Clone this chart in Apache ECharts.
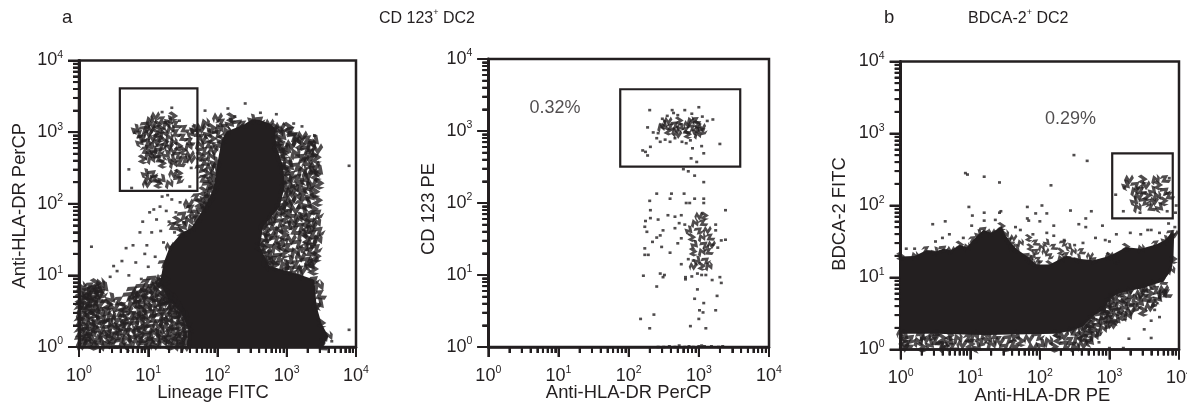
<!DOCTYPE html>
<html><head><meta charset="utf-8">
<style>html,body{margin:0;padding:0;background:#fff}#c{width:1187px;height:407px}</style>
<script src="https://cdn.jsdelivr.net/npm/echarts@6/dist/echarts.min.js"></script>
</head><body><div id="c"></div>
<script>
// All cytometry readings below are decades: [log10 x, log10 y],
// or rows [log10 y, log10 x, log10 x, ...] for the stippled parts of a cloud.
const decadeTicks = [1, 10, 100, 1000, 10000];
const minorTicks = [2,3,4,5,6,7,8,9,20,30,40,50,60,70,80,90,200,300,400,500,600,700,800,900,2000,3000,4000,5000,6000,7000,8000,9000];

const p1Core = [[1.55,0],[1.58,.24],[1.48,.47],[1.29,.66],[1.17,.89],[1.22,1.17],[1.31,1.40],[1.48,1.59],[1.62,1.66],[1.70,1.78],[1.82,1.96],[1.94,2.20],[1.99,2.52],[2.06,2.89],[2.13,3.01],[2.37,3.10],[2.5,3.18],[2.61,3.17],[2.75,3.12],[2.83,3.06],[2.85,2.80],[2.95,2.52],[2.97,2.24],[2.90,1.96],[2.66,1.68],[2.61,1.40],[2.75,1.13],[3.0,1.06],[3.19,1.01],[3.40,.94],[3.43,.57],[3.50,.33],[3.60,.15],[3.52,0]];
const p1Left = [
[.03,.04,.2,.38,.5,.72,.95,1.1,1.3,1.45],[.07,.12,.3,.6,.85,1.02,1.2,1.38,1.52],[.11,.03,.22,.44,.68,.9,1.12,1.28,1.48],
[.15,.1,.34,.52,.78,1.0,1.22,1.4,1.55],[.19,.02,.18,.42,.62,.86,1.08,1.32,1.5],[.23,.12,.3,.56,.74,.96,1.18,1.42],
[.27,.06,.22,.48,.66,.9,1.04,1.28,1.52],[.31,.16,.36,.6,.82,1.14,1.36,1.46],[.35,.02,.26,.44,.72,.98,1.22,1.54],
[.39,.1,.34,.54,.66,.88,1.08,1.3,1.42],[.43,.04,.2,.46,.78,.94,1.18,1.5],[.47,.14,.3,.6,.84,1.04,1.26,1.38,1.46],
[.51,.02,.24,.38,.7,.9,1.12,1.34],[.55,.1,.18,.5,.64,.98,1.2,1.44],[.59,.04,.28,.42,.76,.86,1.06,1.3,1.38],
[.63,.14,.2,.58,.92,1.14,1.24],[.67,.02,.09,.3,.46,.8,1.0,1.2,1.34],[.71,.16,.24,.72,.88,1.08,1.28],
[.75,.06,.12,.32,.84,.96,1.16],[.79,.2,.28,.78,1.04,1.22],[.83,.03,.16,.36,.9,1.1],[.88,.24,.3,.98,1.14],[.94,1.06,1.18,1.24]];
const p1Right = [
[3.06,2.9,3.02],[3.0,2.88,3.06],[2.94,2.93,3.1,3.22],[2.88,2.87,3.14,3.3,3.4],[2.82,2.92,3.06,3.2,3.35],[2.76,2.88,3.0,3.28,3.44],
[2.7,2.96,3.12,3.36],[2.64,2.92,3.2,3.32,3.42],[2.58,3.0,3.28],[2.52,3.04,3.14,3.4],[2.46,2.98,3.22,3.36,3.46],[2.4,3.06,3.3,3.42],
[2.34,3.0,3.16,3.26],[2.28,3.04,3.36,3.46],[2.22,3.1,3.2,3.3],[2.16,2.98,3.06,3.4],[2.1,3.14,3.24,3.34],[2.04,2.96,3.06,3.44],
[1.98,3.0,3.2,3.3],[1.92,2.94,3.12,3.38],[1.86,2.86,3.04,3.24,3.44],[1.8,2.8,2.98,3.16,3.32],[1.74,2.74,2.9,3.1,3.28,3.42],
[1.68,2.8,3.02,3.2,3.36],[1.62,2.7,2.88,3.12,3.3,3.46],[1.56,2.76,2.96,3.22,3.38],[1.5,2.68,2.84,3.06,3.3,3.44],
[1.44,2.72,2.92,3.16,3.36],[1.38,2.66,2.84,3.02,3.26,3.42],[1.32,2.7,2.96,3.12,3.34],[1.26,2.74,2.88,3.2,3.42],
[1.2,2.7,2.82,3.04,3.28,3.38],[1.14,2.82,2.96,3.14,3.34],[1.08,3.06,3.22,3.38],[.85,3.46],[.72,3.48],[.6,3.47]];
const p1Bridge = [
[3.2,2.0,2.2],[3.12,1.82,2.06,2.18,2.3],[3.05,1.76,1.92,2.02],[2.98,1.72,1.86,2.0],[2.9,1.78,1.92],[2.82,1.74,1.88,2.0],
[2.74,1.8,1.94],[2.66,1.76,1.9],[2.58,1.82,1.96],[2.5,1.76,1.9],[2.42,1.84,1.94],[2.34,1.8,1.92],[2.26,1.86,1.96],[2.17,1.8,1.9],
[2.08,1.7,1.82,1.88],[2.0,1.58,1.74,1.84],[1.92,1.62,1.76],[1.84,1.5,1.66],[1.76,1.42,1.58],[1.68,1.36,1.5]];
const p1Gate = [
[3.22,1.1,1.36],[3.16,1.02,1.2,1.3],[3.1,.96,1.06,1.14,1.26,1.4],[3.04,.82,.94,1.04,1.18,1.32,1.52,1.66],
[2.98,.86,1.0,1.12,1.22,1.4,1.62],[2.92,.92,1.06,1.16,1.3,1.5],[2.86,.88,.98,1.12,1.24,1.36,1.6],[2.8,1.02,1.18,1.3,1.44,1.58],
[2.74,.96,1.08,1.16,1.36,1.5],[2.68,1.0,1.1,1.26,1.42,1.6],[2.62,.92,1.04,1.16,1.34,1.52,1.62],[2.56,1.2,1.36,1.46],
[2.42,.96,1.06,1.36,1.44],[2.34,1.0,1.1,1.2,1.44],[2.28,.98,1.14,1.3]];
const p1Sparse = [[.18,1.40],[3.90,2.53],[3.90,.24],[.45,.98],[.5,1.13],[.55,1.06],[.62,1.2],[.68,1.38],[.72,1.0],[.78,1.42],[.82,1.18],[.9,.95],[.95,1.3],[1.0,1.12],[.88,1.6],[.98,1.42],[.92,1.75],[1.05,1.6],[1.1,1.26],[1.02,1.88],[1.12,1.78],[1.18,1.62],[1.2,2.1],[1.22,1.46],[1.08,1.92],[1.17,1.96],[1.26,1.9],[1.3,1.75],[1.34,2.06],[1.4,1.88],[1.46,2.02],[1.28,2.12],[1.52,1.74],[1.56,1.96],[1.38,1.6],[3.1,3.12],[3.22,3.08],[3.4,2.95],[2.15,3.33],[2.4,3.4],[2.25,3.22],[2.62,3.27],[2.85,3.25],[1.82,3.3],[3.5,.1],[3.65,.08],[.72,2.48],[.76,2.22],[1.6,2.24],[1.62,2.5],[1.2,3.28],[1.34,3.34],[1.45,3.16],[1.65,3.08]];

const p2Top = [[2.30,3.29],[2.62,3.29],[2.80,3.29],[3.0,3.33],[3.2,3.16],[3.3,2.82],[2.27,3.05],[2.2,2.73],[2.24,2.71],[2.27,2.66],[2.31,2.78],[2.45,2.85],[2.59,2.85],[2.82,2.83],[2.91,2.76],[3.04,2.79],[3.07,2.69],[2.89,2.62],[2.97,2.57],[2.78,2.47],[2.85,2.44],[2.94,2.38],[3.07,2.29],[2.64,3.25],[2.7,3.22],[2.55,3.21],[2.48,3.17],[3.05,3.2],[2.9,3.24],[2.35,2.98],[2.42,2.97],[2.4,2.9],[2.52,2.88],[2.66,2.9],[2.76,2.85],[2.88,2.87],[3.12,3.14]];
const p2TopCore = [[3.14,2.56,2.72,2.88,2.96],[3.09,2.5,2.66,2.84,2.98],[3.05,2.46,2.6,2.74,2.9,3.04],[3.0,2.56,2.66,2.82,2.96,3.05],[2.95,2.7,2.84,2.98]];
const p2Low = [[2.40,2.13],[2.61,2.13],[2.79,2.13],[2.3,2.03],[2.31,1.90],[2.59,2.06],[2.94,2.06],[3.07,2.06],[2.82,2.0],[2.87,2.0],[3.07,2.0],[3.38,1.90],[2.56,1.83],[2.42,1.77],[2.31,1.79],[2.24,1.75],[2.23,1.67],[2.26,1.60],[2.49,1.62],[2.66,1.81],[2.66,1.65],[2.75,1.83],[2.45,1.55],[2.40,1.52],[2.34,1.46],[2.47,1.39],[2.23,1.37],[2.23,1.28],[2.28,1.28],[2.59,1.31],[2.70,1.44],[2.75,1.51],[3.38,1.49],[3.32,1.48],[2.21,.99],[2.45,1.02],[2.51,1.0],[2.49,.97],[2.40,.84],[2.81,.94],[2.81,.97],[2.75,1.15],[3.30,.97],[3.32,.89],[3.19,.93],[2.98,.80],[2.94,.67],[3.07,.61],[3.26,.71],[3.01,.51],[3.06,.48],[3.24,.51],[2.17,.39],[2.36,.45],[2.30,.26],[2.88,.29],[3.0,.39],[3.10,.26],[2.72,1.72],[2.8,1.7],[3.24,1.7],[3.24,1.62],[3.2,1.42],[3.27,1.38],[2.85,1.22],[2.92,1.2],[2.98,1.02],[3.04,1.0],[3.1,1.0],[2.9,.98],[2.42,0],[2.5,0],[2.58,.01],[2.66,0],[2.72,.02],[2.8,0],[2.86,.01],[2.92,0],[3.0,.01],[3.04,.02],[3.08,.01],[3.18,.01],[3.28,0],[3.34,.01]];
const p2LowCore = [[1.82,3.0,3.08],[1.72,2.94,3.06],[1.62,2.86,3.0,3.12],[1.52,2.9,3.04,3.16],[1.42,2.94,3.08,3.18],[1.32,2.92,3.04,3.14],[1.2,2.98,3.1],[1.12,2.92,3.04,3.14]];

const p3Core = [[0,.22],[0,1.29],[.2,1.3],[.37,1.38],[.5,1.36],[.61,1.40],[.72,1.38],[.85,1.45],[.95,1.42],[1.04,1.52],[1.12,1.6],[1.19,1.66],[1.3,1.62],[1.45,1.71],[1.5,1.6],[1.57,1.5],[1.66,1.4],[1.81,1.3],[1.95,1.18],[2.14,1.18],[2.3,1.26],[2.38,1.3],[2.55,1.26],[2.77,1.24],[3.0,1.3],[3.24,1.42],[3.45,1.4],[3.67,1.46],[3.8,1.52],[3.89,1.62],[3.93,1.6],[3.92,1.25],[3.89,1.1],[3.77,.94],[3.62,.9],[3.48,.85],[3.3,.82],[3.15,.78],[3.02,.72],[2.91,.55],[2.75,.45],[2.62,.32],[2.45,.26],[2.24,.22],[1.2,.2],[.5,.22]];
const p3Bottom = [[.03,.05,.3,.62,.75,1.1,1.5,1.9,2.2,2.5],[.07,.1,.42,.58,.88,1.0,1.3,1.62,2.02,2.36,2.62],[.11,.04,.25,.5,.7,1.15,1.42,1.72,2.12,2.44,2.72],[.15,.14,.36,.6,.82,.98,1.26,1.55,1.84,2.26,2.54,2.66],[.19,.05,.3,.48,.7,1.06,1.36,1.66,1.98,2.34,2.6,2.78],[.24,2.5,2.7,2.82],[.29,2.62,2.72,2.9],[.35,2.7,2.82,2.96,3.05],[.41,2.76,2.9,3.0,3.1],[.47,2.88,3.02,3.18,3.26],[.53,2.92,3.0,3.12,3.3,3.48],[.59,2.96,3.08,3.22,3.36,3.58],[.65,3.0,3.14,3.28,3.44,3.62],[.71,3.06,3.2,3.38,3.52,3.7],[.77,3.28,3.44,3.58,3.76,3.82],[.83,3.5,3.66,3.78]];
const p3Mid = [[1.55,1.62,1.84],[1.48,1.72,1.94,2.1,2.34],[1.42,1.6,1.86,2.02,2.2,2.42],[1.36,1.94,2.08,2.3,2.48,2.6],[1.3,1.9,2.14,2.72,3.0],[1.24,1.86,1.98,3.1]];
const p3Gate = [[2.36,3.28,3.48,3.66,3.8],[2.28,3.24,3.38,3.52,3.7],[2.2,3.36,3.46,3.62,3.8],[2.13,3.42,3.54,3.68,3.86],[2.06,3.36,3.5,3.64,3.78],[1.97,3.4,3.6,3.72]];
const p3Sparse = [[2.49,2.7],[2.68,2.62],[.93,2.45],[.96,2.43],[1.2,2.4],[1.42,2.32],[2.16,2.28],[.46,1.74],[.64,1.78],[.98,1.98],[1.2,1.9],[1.42,1.9],[1.44,1.92],[1.82,1.98],[2.03,2.0],[1.94,1.89],[2.1,1.89],[2.44,1.93],[2.74,1.92],[2.66,1.82],[1.03,1.86],[1.2,1.79],[1.36,1.8],[1.82,1.82],[1.84,1.79],[2.0,1.78],[2.2,1.72],[2.56,1.74],[2.66,1.7],[2.9,1.72],[.9,1.55],[.7,1.6],[.6,1.55],[.5,1.5],[.08,1.4],[.2,1.4],[1.02,1.72],[1.65,1.7],[1.72,1.66],[1.9,1.6],[2.1,1.62],[2.2,1.58],[2.35,1.52],[2.5,1.45],[2.62,1.48],[2.8,1.55],[2.94,1.52],[3.0,1.5],[3.1,1.6],[3.3,1.62],[3.45,1.6],[3.55,1.66],[3.6,1.66],[3.72,1.62],[3.85,1.75],[3.95,1.9],[3.96,2.0],[3.94,1.7],[3.5,.28],[3.6,.4],[3.28,.15],[3.65,.55],[3.72,.72],[3.6,.16],[3.0,.02],[3.2,.02],[2.85,.1],[3.72,.45],[3.09,2.15],[3.22,2.25],[3.2,1.92],[3.86,2.38],[3.83,1.92],[3.44,1.9]];

const gate1 = [[.59,2.18],[1.71,3.61]];
const gate2 = [[1.88,2.506],[3.59,3.58]];
const gate3 = [[3.04,1.82],[3.91,2.725]];
const note2 = [[.95,3.32]], note3 = [[2.44,3.2]];
const panelNames = ['Lineage FITC','Anti-HLA-DR PerCP','Anti-HLA-DR PE'];
const yNames = ['Anti-HLA-DR PerCP','CD 123 PE','BDCA-2 FITC'];

const real = p => [Math.pow(10,p[0]), Math.pow(10,p[1])];
const rows = list => list.flatMap(r => r.slice(1).map(x => [Math.pow(10,x), Math.pow(10,r[0])]));

const INK = '#231f20', FONT = 'Liberation Sans';
const SQUIGGLE = 'path://M0,5 L3,0 L6,4 L9,0 L11,3 L6,9 L3,5 L2,9 Z';
const grids = [
  {left:79, top:60.5, width:277, height:286.5},
  {left:488.3, top:59, width:280.7, height:288},
  {left:900.7, top:61.5, width:278.3, height:288}
];
const rich = {
  b:{fontSize:18,color:INK,fontFamily:FONT,lineHeight:22},
  s:{fontSize:10.5,color:INK,fontFamily:FONT,lineHeight:22,verticalAlign:'top',padding:[0,0,8,0]}
};
const decadeLabel = v => `{b|10}{s|${Math.round(Math.log10(v))}}`;
const lineOf = w => ({color:INK,width:w});
const base = {type:'log',min:1,max:10000,splitLine:{show:false},nameMoveOverlap:false,nameLocation:'middle'};
const nameStyle = {fontSize:18.4,color:INK,fontFamily:FONT};
const yGaps=[50,50,52];
const xPads=[[0,9,0,0],[0,0,0,0],[0,0,0,5]];
const yPads=[[0,4,0,0],[0,12,0,0],[0,17,0,0]];
const xAxis=grids.map((g,i)=>({...base,gridIndex:i,position:'bottom',name:panelNames[i],nameGap:37,
    nameTextStyle:{...nameStyle,padding:xPads[i]},axisLine:{show:true,lineStyle:lineOf(2.5)},
    axisTick:{show:true,length:10,lineStyle:lineOf(2)},minorTick:{show:true,splitNumber:9,length:6,lineStyle:lineOf(2)},
    axisLabel:{show:true,formatter:decadeLabel,rich,margin:18}}));
const yAxis=grids.map((g,i)=>({...base,gridIndex:i,position:'left',name:yNames[i],nameGap:yGaps[i],
    nameTextStyle:{...nameStyle,padding:yPads[i]},axisLine:{show:true,lineStyle:lineOf(3)},
    axisTick:{show:true,length:11,lineStyle:lineOf(2)},minorTick:{show:true,splitNumber:9,length:6,lineStyle:lineOf(2)},
    axisLabel:{show:true,formatter:decadeLabel,rich,margin:16}}));

function blob(i, pts){
  const data = pts.map(real);
  return {type:'custom',xAxisIndex:i,yAxisIndex:i,data,z:2,silent:true,encode:{x:0,y:1},
    renderItem(params,api){
      if(params.dataIndex!==0) return null;
      return {type:'polygon',shape:{points:data.map(d=>api.coord(d))},style:{fill:INK}};
    }};
}
function gate(i, box){
  const data=[box.flatMap(real)];
  return {type:'custom',xAxisIndex:i,yAxisIndex:i,data,z:4,silent:true,encode:{x:[0,2],y:[1,3]},
    renderItem(params,api){
      const a=api.coord([api.value(0),api.value(1)]),b=api.coord([api.value(2),api.value(3)]);
      return {type:'rect',shape:{x:a[0],y:b[1],width:b[0]-a[0],height:a[1]-b[1]},
        style:{fill:'none',stroke:INK,lineWidth:2.2}};
    }};
}
const turns=[0,90,200,300,45,130];
function marks(i, data, size){
  return {type:'scatter',xAxisIndex:i,yAxisIndex:i,data,symbol:SQUIGGLE,symbolSize:size,z:3,silent:true,
    symbolRotate:(v,p)=>turns[p.dataIndex%6],itemStyle:{color:INK}};
}
function dots(i, data){
  return {type:'scatter',xAxisIndex:i,yAxisIndex:i,data,symbol:'rect',symbolSize:[3,2.6],z:3,silent:true,
    itemStyle:{color:INK}};
}
function note(i, pts, text){
  return {type:'scatter',xAxisIndex:i,yAxisIndex:i,data:pts.map(real),symbolSize:0,z:5,silent:true,
    label:{show:true,position:'inside',formatter:text,fontSize:18,color:INK,fontFamily:FONT}};
}
const series=[
  blob(0,p1Core), marks(0,p1Core.map(real),10), marks(0,rows(p1Left),12), marks(0,rows(p1Right),12), marks(0,rows(p1Bridge),11),
  marks(0,rows(p1Gate),10), dots(0,p1Sparse.map(real)), gate(0,gate1),
  marks(1,rows(p2TopCore),9), dots(1,p2Top.map(real)), marks(1,rows(p2LowCore),9), dots(1,p2Low.map(real)),
  gate(1,gate2), note(1,note2,'0.32%'),
  blob(2,p3Core), marks(2,p3Core.map(real),9), marks(2,rows(p3Bottom),11), marks(2,rows(p3Mid),8), marks(2,rows(p3Gate),10), dots(2,p3Sparse.map(real)),
  gate(2,gate3), note(2,note3,'0.29%')
];
const tRich={a:{fontSize:18.5,color:INK,fontFamily:FONT,lineHeight:22,fontWeight:'normal'},t:{fontSize:16,color:INK,fontFamily:FONT,lineHeight:22,fontWeight:'normal'},s:{fontSize:9,color:INK,fontFamily:FONT,lineHeight:22,verticalAlign:'top',padding:[0,0,7,0],fontWeight:'normal'}};
const title=[
  {text:'{a|a}',left:62,top:7,textStyle:{rich:tRich}},
  {text:'{a|b}',left:884,top:7,textStyle:{rich:tRich}},
  {text:'{t|CD 123}{s|+}{t| DC2}',left:379,top:8,textStyle:{rich:tRich}},
  {text:'{t|BDCA-2}{s|+}{t| DC2}',left:968,top:8,textStyle:{rich:tRich}}
].map(t=>({...t,padding:0}));
const chart=echarts.init(document.getElementById('c'),null,{renderer:'canvas'});
chart.setOption({animation:false,title,
  grid:grids.map(g=>({...g,show:true,borderColor:INK,borderWidth:2.5,outerBoundsMode:'none'})),
  xAxis,yAxis,series});
// Tick marks placed through the axes' own scales, on a layer above the chart.
const zr=chart.getZr();
grids.forEach((g,i)=>{
  const x0=chart.convertToPixel({xAxisIndex:i},1), y0=chart.convertToPixel({yAxisIndex:i},1);
  [[decadeTicks,10,11],[minorTicks,6,6]].forEach(([vals,xLen,yLen])=>vals.forEach(v=>{
    const x=chart.convertToPixel({xAxisIndex:i},v), y=chart.convertToPixel({yAxisIndex:i},v);
    zr.add(new echarts.graphic.Line({zlevel:5,silent:true,shape:{x1:x,y1:y0,x2:x,y2:y0+xLen},style:{stroke:INK,lineWidth:2}}));
    zr.add(new echarts.graphic.Line({zlevel:5,silent:true,shape:{x1:x0,y1:y,x2:x0-yLen,y2:y},style:{stroke:INK,lineWidth:2}}));
  }));
});
</script></body></html>
